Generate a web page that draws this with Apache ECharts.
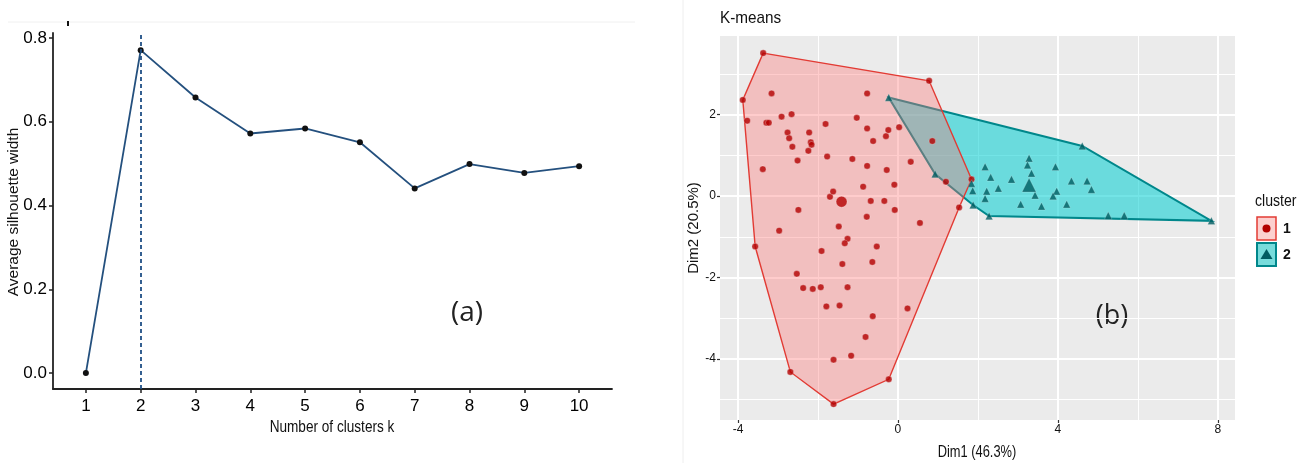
<!DOCTYPE html>
<html>
<head>
<meta charset="utf-8">
<script src="https://cdn.jsdelivr.net/npm/echarts@6/dist/echarts.min.js"></script>
<style>
  html, body { margin: 0; padding: 0; background: #fff; }
  #chart { width: 1303px; height: 463px; }
</style>
</head>
<body>
<div id="chart"></div>
<script>
// panel (a): silhouette method
const kValues = [1, 2, 3, 4, 5, 6, 7, 8, 9, 10]
const silhouette = [0, 0.771, 0.658, 0.572, 0.584, 0.551, 0.441, 0.499, 0.478, 0.494]
const optimalK = 2
const silhouetteTicks = [0, 0.2, 0.4, 0.6, 0.8]

// panel (b): k-means clusters on Dim1/Dim2
const dim1Major = [-4, 0, 4, 8]
const dim1Minor = [-2, 2, 6]
const dim2Major = [-4, -2, 0, 2]
const dim2Minor = [-5, -3, -1, 1, 3]

const cluster1 = [
	[-3.37, 3.51], [0.78, 2.83], [-3.88, 2.36], [-3.16, 2.52], [-0.77, 2.52],
	[-3.77, 1.85], [-3.29, 1.80], [-3.23, 1.80], [-2.91, 1.95], [-2.66, 2.01],
	[-1.81, 1.77], [-1.03, 1.92], [-0.77, 1.66], [-0.24, 1.62], [-0.30, 1.47],
	[0.03, 1.69], [-0.62, 1.35], [0.86, 1.35], [-2.76, 1.56], [-2.72, 1.42],
	[-2.22, 1.56], [-2.18, 1.32], [-2.16, 1.26], [-2.64, 1.21], [-2.24, 1.11],
	[-3.38, 0.66], [-2.51, 0.87], [-1.77, 0.97], [-1.14, 0.91], [-0.77, 0.74],
	[-0.28, 0.64], [0.32, 0.84], [-0.09, 0.28], [-0.87, 0.23], [1.20, 0.35],
	[1.84, 0.41], [-1.70, -0.02], [-1.62, 0.11], [-0.68, -0.12], [-0.34, -0.12],
	[-2.49, -0.34], [-0.78, -0.51], [-0.08, -0.34], [0.55, -0.66], [1.53, -0.28],
	[-2.97, -0.85], [-1.48, -0.75], [-3.57, -1.24], [-1.26, -1.05], [-1.33, -1.16],
	[-1.91, -1.35], [-0.53, -1.24], [-1.39, -1.67], [-0.64, -1.62], [-2.53, -1.91],
	[-2.37, -2.26], [-2.13, -2.28], [-1.93, -2.24], [-1.26, -2.24], [-1.79, -2.71],
	[-1.46, -2.69], [0.24, -2.76], [-0.63, -2.95], [-0.81, -3.46], [-1.17, -3.92],
	[-1.61, -4.02], [-2.69, -4.32], [-0.23, -4.50], [-1.61, -5.11]
]
const cluster2 = [
	[-0.23, 2.42], [4.61, 1.23], [7.84, -0.61], [2.28, -0.49], [1.88, -0.22],
	[0.93, 0.54], [2.18, 0.72], [2.32, 0.46], [1.84, 0.31], [1.87, 0.13],
	[2.22, 0.12], [2.18, -0.06], [2.51, 0.19], [2.84, 0.41], [3.28, 0.93],
	[3.24, 0.76], [3.34, 0.56], [3.43, 0.02], [3.07, -0.20], [3.59, -0.25],
	[3.94, 0.72], [3.97, 0.12], [3.88, 0.00], [4.22, -0.20], [4.34, 0.37],
	[4.73, 0.37], [4.84, 0.16], [5.26, -0.48], [5.66, -0.48]
]
const hull1 = [
	[-3.37, 3.51], [0.78, 2.83], [1.84, 0.41], [1.53, -0.28], [-0.23, -4.50],
	[-1.61, -5.11], [-2.69, -4.32], [-3.57, -1.24], [-3.88, 2.36]
]
const hull2 = [
	[-0.23, 2.42], [4.61, 1.23], [7.84, -0.61], [2.28, -0.49], [1.88, -0.22], [0.93, 0.54]
]
const center1 = [[-1.41, -0.14]]
const center2 = [[3.28, 0.27]]

const SANS = '"Liberation Sans", Arial, sans-serif'
const CALIBRI_LIKE = '"Open Sans", sans-serif'

const chart = echarts.init(document.getElementById('chart'), null, { renderer: 'canvas' })

function hullSeries(points, fill, stroke, width, z) {
	return {
		type: 'custom',
		xAxisIndex: 1,
		yAxisIndex: 1,
		z: z,
		silent: true,
		data: points,
		renderItem: function (params, api) {
			if (params.dataIndex !== 0) return
			const pts = points.map(p => api.coord(p))
			return {
				type: 'polygon',
				shape: { points: pts },
				style: { fill: fill, stroke: stroke, lineWidth: width }
			}
		}
	}
}

function splitAxis(grid, min, max, values, width, withLabels) {
	return {
		type: 'value',
		gridIndex: grid,
		min: min,
		max: max,
		axisLine: { show: false, onZero: false },
		axisTick: {
			show: withLabels,
			customValues: values,
			length: 3,
			lineStyle: { color: '#333', width: 1.2 }
		},
		axisLabel: {
			show: withLabels,
			customValues: values,
			margin: 4,
			color: '#111',
			fontFamily: SANS,
			fontSize: 12
		},
		splitLine: { show: true, lineStyle: { color: '#ffffff', width: width } }
	}
}

function label(text, x, y, size, extra, styleExtra) {
	const el = {
		type: 'text', x: x, y: y,
		style: {
			text: text, fontFamily: SANS, fontSize: size, fill: '#111',
			textAlign: 'center', textVerticalAlign: 'middle'
		}
	}
	Object.assign(el, extra || {})
	Object.assign(el.style, styleExtra || {})
	return el
}

const option = {
	backgroundColor: '#ffffff',
	animation: false,
	grid: [
		{ left: 53, top: 33, width: 559, height: 356 },
		{ left: 720, top: 36, width: 515, height: 384, show: true, backgroundColor: '#ebebeb', borderWidth: 0 }
	],
	xAxis: [
		{
			type: 'value',
			gridIndex: 0,
			min: 0.4,
			max: 10.6,
			axisLine: { onZero: false, lineStyle: { color: '#222', width: 1.8 } },
			axisTick: { customValues: kValues, length: 4, lineStyle: { color: '#222', width: 1.5 } },
			axisLabel: { customValues: kValues, margin: 9, color: '#000', fontFamily: SANS, fontSize: 17 },
			splitLine: { show: false }
		},
		splitAxis(1, -4.45, 8.43, dim1Major, 2, true),
		splitAxis(1, -4.45, 8.43, dim1Minor, 1, false)
	],
	yAxis: [
		{
			type: 'value',
			gridIndex: 0,
			min: -0.038,
			max: 0.812,
			axisLine: { show: true, onZero: false, lineStyle: { color: '#222', width: 1.8 } },
			axisTick: { show: true, customValues: silhouetteTicks, length: 4, lineStyle: { color: '#222', width: 1.5 } },
			axisLabel: {
				customValues: silhouetteTicks,
				margin: 6,
				color: '#000',
				fontFamily: SANS,
				fontSize: 17,
				formatter: v => v.toFixed(1)
			},
			splitLine: { show: false }
		},
		splitAxis(1, -5.5, 3.93, dim2Major, 2, true),
		splitAxis(1, -5.5, 3.93, dim2Minor, 1, false)
	],
	series: [
		{
			type: 'line',
			xAxisIndex: 0,
			yAxisIndex: 0,
			data: kValues.map((k, i) => [k, silhouette[i]]),
			symbol: 'circle',
			symbolSize: 6,
			itemStyle: { color: '#111' },
			lineStyle: { color: '#24507e', width: 1.8 },
			markLine: {
				silent: true,
				symbol: 'none',
				label: { show: false },
				lineStyle: { color: '#1f4f85', width: 1.8, type: [4, 3] },
				data: [{ xAxis: optimalK }]
			}
		},
		hullSeries(hull2, 'rgba(0,205,210,0.55)', '#00878b', 2, 1),
		hullSeries(hull1, 'rgba(255,115,115,0.36)', '#e23b34', 1.4, 2),
		{
			type: 'scatter',
			xAxisIndex: 1,
			yAxisIndex: 1,
			z: 3,
			data: cluster1,
			symbol: 'circle',
			symbolSize: 6.5,
			itemStyle: { color: '#b30000', borderColor: 'rgba(255,255,255,0.35)', borderWidth: 1 }
		},
		{
			type: 'scatter',
			xAxisIndex: 1,
			yAxisIndex: 1,
			z: 3,
			data: cluster2,
			symbol: 'triangle',
			symbolSize: 7.5,
			itemStyle: { color: '#005c62', borderColor: 'rgba(255,255,255,0.3)', borderWidth: 0.8 }
		},
		{
			type: 'scatter',
			xAxisIndex: 1,
			yAxisIndex: 1,
			z: 4,
			data: center1,
			symbol: 'circle',
			symbolSize: 11,
			itemStyle: { color: '#b30000', borderColor: 'rgba(255,255,255,0.35)', borderWidth: 1 }
		},
		{
			type: 'scatter',
			xAxisIndex: 1,
			yAxisIndex: 1,
			z: 4,
			data: center2,
			symbol: 'triangle',
			symbolSize: 14,
			itemStyle: { color: '#005c62', borderColor: 'rgba(255,255,255,0.3)', borderWidth: 0.8 }
		}
	],
	graphic: [
		// faint frame artefacts of the source figure
		{ type: 'line', shape: { x1: 8, y1: 22, x2: 635, y2: 22 }, style: { stroke: '#f0f0f0', lineWidth: 1 } },
		{ type: 'rect', shape: { x: 67, y: 21, width: 2, height: 5 }, style: { fill: '#111' } },
		{ type: 'line', shape: { x1: 683, y1: 0, x2: 683, y2: 463 }, style: { stroke: '#eeeeee', lineWidth: 1 } },
		// panel (a) texts
		label('Average silhouette width', 14, 212, 15.5, { rotation: Math.PI / 2 }),
		label('Number of clusters k', 332, 427, 17, { scaleX: 0.8 }),
		label('(a)', 467, 313, 28, {}, { fontFamily: CALIBRI_LIKE, fill: '#222' }),
		// panel (b) texts
		label('K-means', 720, 18, 17, { scaleX: 0.9 }, { textAlign: 'left' }),
		label('Dim1 (46.3%)', 977, 452, 16.5, { scaleX: 0.78 }),
		label('Dim2 (20.5%)', 694, 228, 15, { rotation: Math.PI / 2 }),
		label('(b)', 1112, 316, 27, {}, { fontFamily: CALIBRI_LIKE, fill: '#222' }),
		// legend
		label('cluster', 1255, 202, 16, { scaleX: 0.88 }, { textAlign: 'left' }),
		{ type: 'rect', shape: { x: 1257, y: 217, width: 19, height: 23 }, style: { fill: '#fcd0cf', stroke: '#e23b34', lineWidth: 1.5 } },
		{ type: 'circle', shape: { cx: 1266.5, cy: 228.5, r: 4 }, style: { fill: '#b30000' } },
		{ type: 'rect', shape: { x: 1257, y: 243, width: 19, height: 23 }, style: { fill: '#78dcdc', stroke: '#00878b', lineWidth: 2 } },
		{ type: 'polygon', shape: { points: [[1266.5, 249], [1260.5, 259], [1272.5, 259]] }, style: { fill: '#005c62' } },
		label('1', 1287, 229, 14, {}, { fontWeight: 'bold' }),
		label('2', 1287, 255, 14, {}, { fontWeight: 'bold' })
	]
}

chart.setOption(option)
</script>
</body>
</html>
